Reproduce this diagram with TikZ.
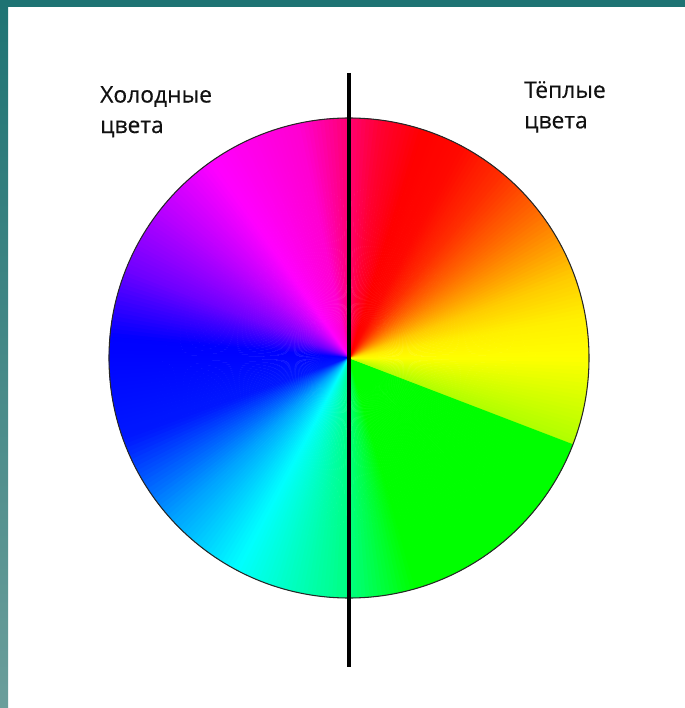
\documentclass[tikz,border=0pt]{standalone}
\usepackage{fontspec}
\setmainfont{Open Sans}
\newfontfamily\labelfont[FakeBold=0.4]{Open Sans}
\usetikzlibrary{positioning}
\definecolor{frameteal}{HTML}{1E7373}
\definecolor{framepale}{HTML}{6B9E9B}
\definecolor{inkgray}{HTML}{111111}
% wheel colours
\definecolor{wYellow}{HTML}{FFFF00}
\definecolor{wGold}{HTML}{FFF000}
\definecolor{wAmber}{HTML}{FFCC00}
\definecolor{wOrange}{HTML}{FFA000}
\definecolor{wTangerine}{HTML}{FF6A00}
\definecolor{wVermil}{HTML}{FF3000}
\definecolor{wScarlet}{HTML}{FF0800}
\definecolor{wRed}{HTML}{FF0000}
\definecolor{wRose}{HTML}{FF0030}
\definecolor{wPink}{HTML}{FF0070}
\definecolor{wFuchsia}{HTML}{FF00D0}
\definecolor{wMagenta}{HTML}{FF00FF}
\definecolor{wOrchid}{HTML}{C000FF}
\definecolor{wViolet}{HTML}{7000FF}
\definecolor{wBlue}{HTML}{0000FF}
\definecolor{wCobalt}{HTML}{0018FF}
\definecolor{wAzure}{HTML}{00A0FF}
\definecolor{wCyan}{HTML}{00FFFF}
\definecolor{wSpring}{HTML}{00FF80}
\definecolor{wGreen}{HTML}{00FF00}
\definecolor{wLime}{HTML}{B0FF00}
\definecolor{wChart}{HTML}{E0FF00}

\begin{document}
\begin{tikzpicture}[x=0.03cm,y=-0.03cm,
  side label/.style={font=\labelfont\fontsize{19.5}{26}\selectfont, align=left,
    text=inkgray, inner sep=0pt, anchor=north west},
  divider/.style={line width=3.4pt, black},
  rim/.style={line width=0.9pt, draw=black!85}]
\useasboundingbox (0,0) rectangle (685,708);
\fill[white] (0,0) rectangle (685,708);
% frame
\shade[top color=frameteal, bottom color=framepale] (0,0) rectangle (8,708);
\fill[frameteal] (0,0) rectangle (685,7);

% colour wheel
\begin{scope}[shift={(349,358)}, yscale=-1]
  \foreach \a/\b/\ca/\cb in {0/10/wYellow/wGold, 10/20/wGold/wAmber,
      20/28/wAmber/wOrange, 28/38/wOrange/wTangerine,
      38/50/wTangerine/wVermil, 50/62/wVermil/wScarlet,
      62/72/wScarlet/wRed, 72/82/wRed/wRose, 82/90/wRose/wPink,
      90/102/wPink/wFuchsia, 102/125/wFuchsia/wMagenta,
      125/140/wMagenta/wOrchid, 140/158/wOrchid/wViolet,
      158/175/wViolet/wBlue, 175/200/wBlue/wCobalt,
      200/222/wCobalt/wAzure, 222/242/wAzure/wCyan,
      242/270/wCyan/wSpring, 270/286/wSpring/wGreen,
      286/339/wGreen/wGreen, 339/352/wLime/wChart,
      352/360/wChart/wYellow} {
    \pgfmathtruncatemacro\n{\b-\a}
    \foreach \i in {1,...,\n} {
      \pgfmathtruncatemacro\p{100*(\i-0.5)/\n}
      \pgfmathsetmacro\s{\a+\i-1}
      \filldraw[\cb!\p!\ca, line width=0.2pt] (0,0) -- (\s:240)
        arc[start angle=\s, end angle=\s+1.15, radius=240] -- cycle;
    }
  }
  \draw[rim] (0,0) circle[radius=240];
\end{scope}

\coordinate (top) at (349,73);
\coordinate (bottom) at (349,667);
\draw[divider] (top) -- (bottom);

\node[side label] (cold) at (100,86) {Холодные\\цвета};
\node[side label] (warm) at (524,81) {Тёплые\\цвета};
\end{tikzpicture}
\end{document}
